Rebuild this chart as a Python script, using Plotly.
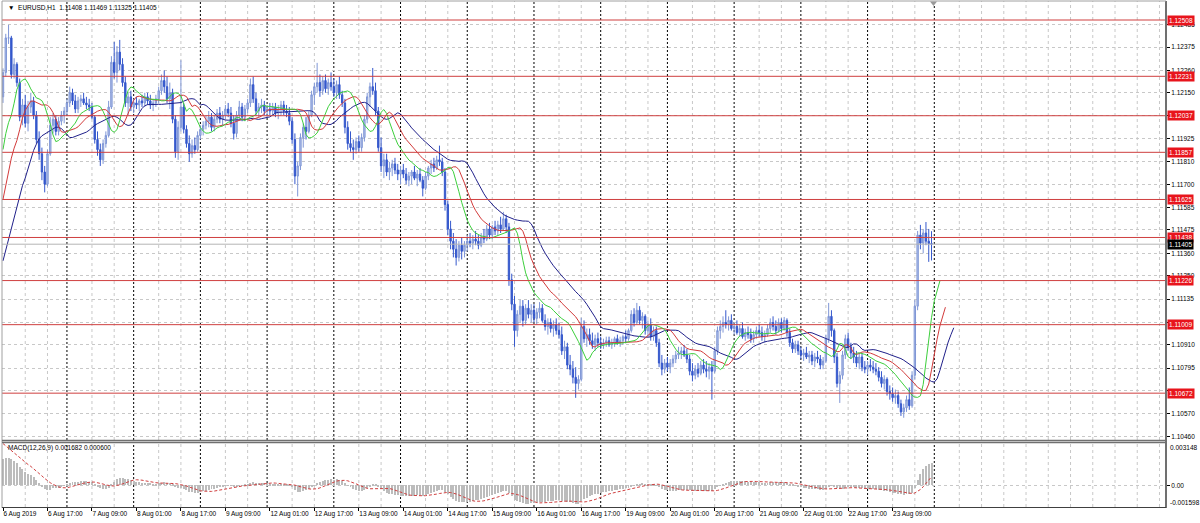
import plotly.graph_objects as go

BASE = 1.10000
PT = 0.00001

# EURUSD H1 bars, 6 Aug 2019 01:00 .. 23 Aug 2019 23:00, points above 1.10000
opens = [
 2130,2250,2420,2420,2240,2290,2200,2030,2090,2000,2080,2110,2040,1920,1850,1760,1700,1850,1990,2020,1960,2010,2040,
 2060,2100,2150,2110,2070,2110,2120,2100,2090,2080,2030,1920,1870,1820,1900,1940,2080,2300,2250,2350,2290,2200,2100,2130,
 2080,2100,2090,2110,2100,2130,2110,2090,2100,2120,2160,2210,2180,2120,2150,2020,1860,1980,2080,1970,1900,1850,1890,1870,
 1940,1970,1990,2010,2030,1980,2020,2050,2020,2040,2070,2050,2000,1950,2040,2080,2030,2070,2100,2190,2120,2060,2080,2090,
 2060,2070,2060,2080,2050,2070,2090,2060,2050,2010,1920,1740,1790,1930,1980,1960,2040,2140,2180,2200,2160,2210,2170,2200,
 2180,2150,2190,2140,2100,1980,1900,1880,1870,1910,1880,1930,2020,2130,2180,2160,2060,1880,1790,1820,1760,1780,1800,1770,
 1750,1770,1750,1720,1740,1760,1730,1750,1720,1680,1740,1780,1800,1780,1820,1810,1760,1600,1480,1420,1380,1340,1400,1370,
 1400,1420,1410,1430,1420,1400,1440,1430,1480,1450,1490,1470,1500,1480,1530,1490,1230,1110,980,1060,1100,1030,1090,1060,
 1080,1040,1070,1090,1030,1000,1020,990,1010,980,960,880,900,810,790,750,720,740,1000,940,960,930,910,940,
 920,910,920,930,910,920,940,920,930,950,940,980,1060,1020,1080,1030,1050,980,1010,950,980,920,820,790,
 820,800,820,840,860,870,880,860,840,780,760,790,770,810,790,780,800,780,880,980,1000,1020,1010,1030,
 990,1000,970,990,950,970,960,940,960,980,970,950,960,990,1020,1000,980,1020,990,1030,970,920,890,910,
 880,860,870,850,860,830,850,840,810,830,940,1050,980,850,720,760,860,940,900,870,850,820,850,800,
 790,810,800,790,780,750,720,740,680,670,650,660,620,580,600,640,610,760,1100,1450,1410,1460,1420,1408]
highs = [
 2270,2440,2484,2430,2320,2300,2220,2120,2140,2110,2150,2130,2060,1960,1880,1790,1870,2030,2050,2040,2030,2060,2080,
 2120,2180,2170,2140,2130,2140,2150,2130,2120,2100,2040,1960,1900,1920,1960,2110,2330,2400,2380,2410,2320,2230,2150,2160,
 2120,2130,2120,2140,2150,2150,2140,2120,2140,2180,2240,2260,2230,2200,2170,2040,2010,2310,2100,1990,1940,1920,1930,1960,
 1990,2010,2040,2060,2050,2040,2070,2080,2060,2090,2100,2080,2040,2060,2110,2100,2090,2120,2220,2230,2150,2100,2120,2110,
 2090,2100,2100,2100,2090,2110,2110,2090,2080,2030,1950,1810,1950,2000,2030,2060,2160,2200,2297,2240,2230,2240,2220,2250,
 2220,2210,2230,2160,2120,2010,1960,1920,1930,1940,1950,2040,2150,2200,2272,2200,2080,1930,1850,1850,1810,1820,1830,1800,
 1790,1800,1780,1760,1770,1790,1770,1780,1740,1760,1790,1820,1830,1840,1890,1830,1780,1620,1520,1460,1430,1420,1440,1420,
 1450,1460,1450,1470,1450,1460,1480,1500,1510,1500,1520,1520,1540,1564,1550,1510,1260,1150,1080,1131,1130,1110,1130,1110,
 1110,1090,1120,1110,1060,1040,1040,1030,1040,1020,1000,930,920,860,830,800,760,1043,1030,990,990,970,960,970,
 950,940,950,950,940,950,960,950,960,980,990,1080,1090,1116,1100,1070,1060,1030,1040,1000,1000,940,860,840,
 850,840,860,880,900,900,910,890,860,820,810,820,830,840,830,820,830,900,1000,1030,1050,1080,1050,1060,
 1020,1030,1010,1020,990,1000,990,980,1000,1010,1000,980,1010,1040,1050,1030,1040,1040,1047,1040,990,940,930,930,
 900,890,900,880,880,870,880,860,850,960,1116,1080,990,870,780,880,960,970,920,900,880,870,870,830,
 830,840,830,820,800,780,760,750,710,700,690,680,640,620,660,700,780,1130,1470,1500,1480,1514,1480,1469]
lows = [
 2100,2230,2390,2220,2220,2180,2010,1990,1980,1960,2050,2020,1900,1820,1720,1660,1690,1840,1950,1940,1940,1990,2000,
 2040,2080,2090,2050,2050,2080,2090,2070,2060,2020,1900,1840,1790,1800,1880,1930,2070,2220,2200,2260,2180,2080,2040,2060,
 2050,2070,2060,2080,2080,2090,2070,2060,2080,2100,2140,2150,2100,2070,2000,1830,1820,1960,1950,1880,1810,1830,1850,1860,
 1920,1940,1970,1980,1960,1960,2000,2000,1990,2020,2030,1980,1920,1930,2020,2010,2010,2050,2080,2100,2040,2030,2050,2040,
 2030,2040,2040,2030,2020,2040,2040,2030,1990,1900,1700,1640,1770,1880,1920,1950,2030,2090,2150,2130,2140,2150,2140,2160,
 2130,2120,2120,2080,1950,1870,1860,1820,1850,1860,1860,1910,2000,2080,2140,2040,1860,1760,1730,1740,1720,1740,1750,1720,
 1700,1730,1700,1690,1700,1720,1690,1710,1640,1670,1720,1750,1760,1770,1790,1740,1570,1450,1380,1340,1300,1320,1330,1340,
 1370,1390,1380,1400,1380,1390,1410,1420,1430,1430,1450,1450,1460,1470,1460,1200,1080,900,950,1020,1000,1010,1040,1020,
 1020,1010,1040,1020,980,960,970,950,960,940,860,840,790,760,720,649,690,730,920,900,910,890,880,900,
 890,890,900,900,890,900,910,900,910,920,930,970,1000,1010,1010,990,960,950,930,930,900,800,760,770,
 780,770,800,820,840,840,850,820,760,730,740,750,760,770,750,740,640,770,860,940,970,990,980,980,
 960,960,950,940,930,940,920,920,940,950,930,920,950,970,980,960,970,970,980,950,900,870,870,860,
 840,830,840,820,810,800,820,790,790,820,920,950,820,700,624,740,840,880,840,820,800,790,780,770,
 760,780,770,760,730,700,690,660,640,630,620,600,560,551,580,590,600,740,1080,1380,1360,1400,1318,1325]
closes = [
 2250,2420,2420,2240,2290,2200,2030,2090,2000,2080,2110,2040,1920,1850,1760,1700,1850,1990,2020,1960,2010,2040,2060,
 2100,2150,2110,2070,2110,2120,2100,2090,2080,2030,1920,1870,1820,1900,1940,2080,2300,2250,2350,2290,2200,2100,2130,2080,
 2100,2090,2110,2100,2130,2110,2090,2100,2120,2160,2210,2180,2120,2150,2020,1860,1980,2080,1970,1900,1850,1890,1870,1940,
 1970,1990,2010,2030,1980,2020,2050,2020,2040,2070,2050,2000,1950,2040,2080,2030,2070,2100,2190,2120,2060,2080,2090,2060,
 2070,2060,2080,2050,2070,2090,2060,2050,2010,1920,1740,1790,1930,1980,1960,2040,2140,2180,2200,2160,2210,2170,2200,2180,
 2150,2190,2140,2100,1980,1900,1880,1870,1910,1880,1930,2020,2130,2180,2160,2060,1880,1790,1820,1760,1780,1800,1770,1750,
 1770,1750,1720,1740,1760,1730,1750,1720,1680,1740,1780,1800,1780,1820,1810,1760,1600,1480,1420,1380,1340,1400,1370,1400,
 1420,1410,1430,1420,1400,1440,1430,1480,1450,1490,1470,1500,1480,1530,1490,1230,1110,980,1060,1100,1030,1090,1060,1080,
 1040,1070,1090,1030,1000,1020,990,1010,980,960,880,900,810,790,750,720,740,1000,940,960,930,910,940,920,
 910,920,930,910,920,940,920,930,950,940,980,1060,1020,1080,1030,1050,980,1010,950,980,920,820,790,820,
 800,820,840,860,870,880,860,840,780,760,790,770,810,790,780,800,780,880,980,1000,1020,1010,1030,990,
 1000,970,990,950,970,960,940,960,980,970,950,960,990,1020,1000,980,1020,990,1030,970,920,890,910,880,
 860,870,850,860,830,850,840,810,830,940,1050,980,850,720,760,860,940,900,870,850,820,850,800,790,
 810,800,790,780,750,720,740,680,670,650,660,620,580,600,640,610,760,1100,1450,1410,1460,1420,1408,1405]

# time axis labels (every 16 bars)
tick_bars = list(range(0, 321, 16))
tick_text = ["6 Aug 2019", "6 Aug 17:00", "7 Aug 09:00", "8 Aug 01:00", "8 Aug 17:00",
             "9 Aug 09:00", "12 Aug 01:00", "12 Aug 17:00", "13 Aug 09:00", "14 Aug 01:00",
             "14 Aug 17:00", "15 Aug 09:00", "16 Aug 01:00", "16 Aug 17:00", "19 Aug 09:00",
             "20 Aug 01:00", "20 Aug 17:00", "21 Aug 09:00", "22 Aug 01:00", "22 Aug 17:00",
             "23 Aug 09:00"]
day_start_bars = [23, 47, 71, 95, 119, 143, 167, 191, 215, 239, 263, 287, 311, 335]

price_ticks = [1.12485, 1.12375, 1.12260, 1.12150, 1.12040, 1.11925, 1.11810, 1.11700,
               1.11585, 1.11475, 1.11360, 1.11250, 1.11135, 1.11020, 1.10910, 1.10795,
               1.10685, 1.10570, 1.10460]
# price labels fully covered by the level tags in the reference
covered_ticks = [1.12040, 1.11020, 1.10685]
level_prices = [1.12508, 1.12231, 1.12037, 1.11857, 1.11625, 1.11438, 1.11226, 1.11009, 1.10672]
bid_price = 1.11405

# Alligator (13/8, 8/5, 5/3) smoothed state + median prices of the bars before the view (5 Aug)
pre_medians = [1.1196, 1.1203, 1.1210, 1.1216, 1.1221, 1.1224, 1.1226, 1.1222]
jaw_seed, teeth_seed, lips_seed = 1.1127, 1.1131, 1.1108
# MACD(12,26,9) state before the first bar
ema12_seed, ema26_seed = 1.1212, 1.1192
prior_macd = [0.0036, 0.0036, 0.0035, 0.0034, 0.0033, 0.0031, 0.0029, 0.0026]

n = len(closes)
assert len(opens) == n == len(highs) == len(lows)
idx = list(range(n))
O = [BASE + v * PT for v in opens]
H = [BASE + v * PT for v in highs]
L = [BASE + v * PT for v in lows]
C = [BASE + v * PT for v in closes]

series = pre_medians + [(h + l) / 2 for h, l in zip(H, L)]
npre = len(pre_medians)


def smma(seed, period, vals):
    out, s = [], seed
    for v in vals:
        s = (s * (period - 1) + v) / period
        out.append(s)
    return out


def shifted(vals, shift):
    xs, ys = [], []
    for k, v in enumerate(vals):
        b = k - npre + shift
        if b >= 0:
            xs.append(b)
            ys.append(v)
    return xs, ys


jaw_x, jaw_y = shifted(smma(jaw_seed, 13, series), 8)
teeth_x, teeth_y = shifted(smma(teeth_seed, 8, series), 5)
lips_x, lips_y = shifted(smma(lips_seed, 5, series), 3)

e12, e26 = ema12_seed, ema26_seed
macd = []
for c in C:
    e12 += (c - e12) * 2 / 13
    e26 += (c - e26) * 2 / 27
    macd.append(e12 - e26)
allm = prior_macd + macd
signal = [sum(allm[i:i + 9]) / 9 for i in range(n)]

# ---------- geometry (pixels) ----------
W, Hh = 1200, 523
ML, MR, MT, MB = 2, 34, 1, 15
PH = Hh - MT - MB
PW = W - ML - MR


def py(Y):
    return (Hh - MB - Y) / PH


def px(X):
    return (X - ML) / PW


main_dom = [py(440), 1.0]
macd_dom = [py(507), py(443)]
XR = [(ML - 3) / 2.78, (W - MR - 3) / 2.78]
YR = [1.12508 - 420 * 0.0000492, 1.12508 + 19 * 0.0000492]

FONT = "Liberation Sans"
fig = go.Figure()

fig.add_trace(go.Candlestick(
    x=idx, open=O, high=H, low=L, close=C, xaxis="x", yaxis="y",
    increasing=dict(line=dict(color="#7f96d6", width=1), fillcolor="#b7c5ea"),
    decreasing=dict(line=dict(color="#3558cc", width=1), fillcolor="#3558cc"),
    whiskerwidth=0, showlegend=False, hoverinfo="skip"))
fig.add_trace(go.Scatter(x=jaw_x, y=jaw_y, mode="lines", line=dict(color="#20208a", width=1),
                         xaxis="x", yaxis="y", showlegend=False, hoverinfo="skip"))
fig.add_trace(go.Scatter(x=teeth_x, y=teeth_y, mode="lines", line=dict(color="#d23a3a", width=1),
                         xaxis="x", yaxis="y", showlegend=False, hoverinfo="skip"))
fig.add_trace(go.Scatter(x=lips_x, y=lips_y, mode="lines", line=dict(color="#3ccf3c", width=1),
                         xaxis="x", yaxis="y", showlegend=False, hoverinfo="skip"))

fig.add_trace(go.Bar(x=idx, y=macd, width=0.35, marker=dict(color="#bcbcbc", line=dict(width=0)),
                     xaxis="x2", yaxis="y2", showlegend=False, hoverinfo="skip"))
fig.add_trace(go.Scatter(x=idx, y=signal, mode="lines", line=dict(color="#d04040", width=1, dash="3px,2px"),
                         xaxis="x2", yaxis="y2", showlegend=False, hoverinfo="skip"))

shapes = []
# vertical grid (every 8 bars)
for b in range(0, int(XR[1]) + 1, 8):
    if b % 24 == 0 and b <= 336:
        continue
    for dom in (main_dom, macd_dom):
        shapes.append(dict(type="line", xref="x", yref="paper", x0=b, x1=b, y0=dom[0], y1=dom[1],
                           line=dict(color="#c8c8c8", width=1, dash="3px,3px"), layer="below"))
# day separators
for b in day_start_bars:
    for dom in (main_dom, macd_dom):
        shapes.append(dict(type="line", xref="x", yref="paper", x0=b, x1=b, y0=dom[0], y1=dom[1],
                           line=dict(color="#000000", width=1, dash="2px,2px"), layer="below"))
# horizontal levels
for p in level_prices:
    shapes.append(dict(type="line", xref="paper", yref="y", x0=0, x1=1, y0=p, y1=p,
                       line=dict(color="#cf3f3f", width=1)))
shapes.append(dict(type="line", xref="paper", yref="y", x0=0, x1=1, y0=bid_price, y1=bid_price,
                   line=dict(color="#b4b4b4", width=1)))
# frames
frame = "#707070"
shapes += [
    dict(type="line", xref="paper", yref="paper", x0=1, x1=1, y0=0, y1=1, line=dict(color=frame, width=2)),
    dict(type="line", xref="paper", yref="paper", x0=0, x1=0, y0=0, y1=1, line=dict(color="#a0a0a0", width=1)),
    dict(type="line", xref="paper", yref="paper", x0=0, x1=1, y0=py(440.5), y1=py(440.5), line=dict(color=frame, width=1.5)),
    dict(type="line", xref="paper", yref="paper", x0=0, x1=1, y0=py(442.5), y1=py(442.5), line=dict(color=frame, width=1.5)),
    dict(type="line", xref="paper", yref="paper", x0=0, x1=1, y0=py(507.5), y1=py(507.5), line=dict(color="#404040", width=1)),
    dict(type="line", xref="paper", yref="paper", x0=0, x1=1, y0=1, y1=1, line=dict(color="#a0a0a0", width=1)),
    # chart-shift marker at the top
    dict(type="path", xref="paper", yref="paper",
         path="M %f,%f L %f,%f L %f,%f Z" % (px(930), py(1.5), px(937), py(1.5), px(933.5), py(6)),
         fillcolor="#9a9a9a", line=dict(width=0)),
]

ann = []
for p in level_prices:
    ann.append(dict(xref="paper", yref="y", x=1, y=p, xanchor="left", yanchor="middle", xshift=1,
                    text="%.5f" % p, showarrow=False, bgcolor="#e8141c", borderpad=1,
                    font=dict(family=FONT, size=6.5, color="white")))
ann.append(dict(xref="paper", yref="y", x=1, y=bid_price, xanchor="left", yanchor="middle", xshift=1,
                text="%.5f" % bid_price, showarrow=False, bgcolor="#000000", borderpad=1,
                font=dict(family=FONT, size=6.5, color="white")))
ann.append(dict(xref="paper", yref="paper", x=px(6), y=py(8), xanchor="left", yanchor="middle",
                text="\u25BC  EURUSD,H1  1.11408 1.11469 1.11325 1.11405", showarrow=False,
                font=dict(family=FONT, size=6.5, color="#000000")))
ann.append(dict(xref="paper", yref="paper", x=px(6), y=py(448), xanchor="left", yanchor="middle",
                text="MACD(12,26,9) 0.001682 0.000600", showarrow=False,
                font=dict(family=FONT, size=6.5, color="#000000")))
for txt, Y in (("0.003148", 447), ("-0.001598", 502)):
    ann.append(dict(xref="paper", yref="paper", x=1, y=py(Y), xanchor="left", yanchor="middle", xshift=2,
                    text=txt, showarrow=False, font=dict(family=FONT, size=6.5, color="#000000")))

axfont = dict(family=FONT, size=6.5, color="#000000")
price_text = ["" if any(abs(v - c) < 1e-9 for c in covered_ticks) else "%.5f" % v for v in price_ticks]
fig.update_layout(
    width=W, height=Hh, margin=dict(l=ML, r=MR, t=MT, b=MB, autoexpand=False),
    paper_bgcolor="#ffffff", plot_bgcolor="#ffffff", showlegend=False,
    shapes=shapes, annotations=ann, bargap=0,
    xaxis=dict(domain=[0, 1], range=XR, anchor="y", showticklabels=False, showgrid=False,
               zeroline=False, rangeslider=dict(visible=False), fixedrange=True, showline=False),
    xaxis2=dict(domain=[0, 1], range=XR, anchor="y2", matches="x", tickmode="array",
                tickvals=tick_bars, ticktext=tick_text, ticks="outside", ticklen=3, tickcolor="#000",
                ticklabelposition="outside right", tickangle=0, tickfont=axfont, showgrid=False,
                zeroline=False, showline=False, automargin=False),
    yaxis=dict(domain=main_dom, range=YR, side="right", anchor="x", tickmode="array",
               tickvals=price_ticks, ticktext=price_text,
               ticks="outside", ticklen=3, tickcolor="#000", tickfont=axfont, showgrid=True,
               gridcolor="#c8c8c8", griddash="3px,3px", zeroline=False, showline=False, automargin=False),
    yaxis2=dict(domain=macd_dom, range=[-0.001598, 0.003148], side="right", anchor="x2",
                tickmode="array", tickvals=[0.0], ticktext=["0.00"], ticks="outside", ticklen=3,
                tickcolor="#000", tickfont=axfont, showgrid=True, gridcolor="#c8c8c8", griddash="3px,3px",
                zeroline=False, showline=False, automargin=False),
)

fig.write_html("out.html", config=dict(displayModeBar=False),
               post_script="document.body.style.margin='0';document.body.style.overflow='hidden';")
